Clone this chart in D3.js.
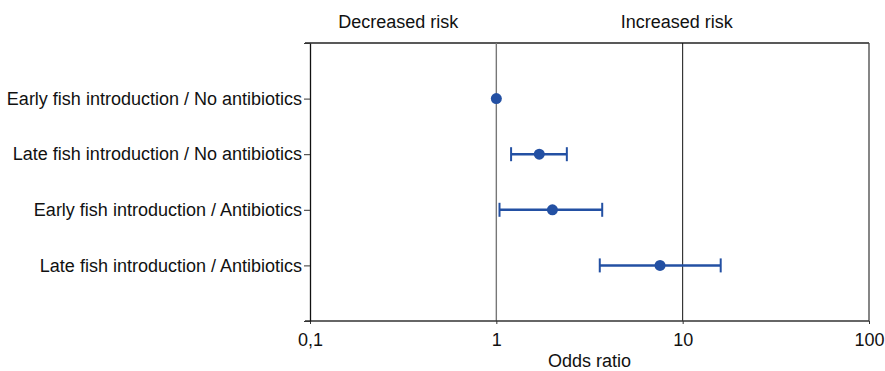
<!DOCTYPE html>
<html>
<head>
<meta charset="utf-8">
<script src="https://cdn.jsdelivr.net/npm/d3@7"></script>
<style>
  body { margin: 0; background: #fff; }
  svg text { font-family: "Liberation Sans Narrow", "Liberation Sans", Arial, sans-serif; fill: #111; }
</style>
</head>
<body>
<div id="chart"></div>
<script>
// groups, top to bottom
var groups = [
  'Early fish introduction / No antibiotics',
  'Late fish introduction / No antibiotics',
  'Early fish introduction / Antibiotics',
  'Late fish introduction / Antibiotics'
];
var oddsRatio = [1.0, 1.70, 2.0, 7.56];
var ciLow = [null, 1.20, 1.04, 3.59];
var ciHigh = [null, 2.39, 3.70, 16.0];

var xTicks = [0.1, 1, 10, 100];
var xTickLabels = ['0,1', '1', '10', '100'];
var refLines = [1, 10];

var width = 885, height = 371;
var margin = {top: 43, right: 16, bottom: 50, left: 310};

var svg = d3.select('#chart').append('svg')
  .attr('width', width).attr('height', height);

var x = d3.scaleLog().domain([0.1, 100]).range([margin.left, width - margin.right]);
// 6 slots: empty top, 4 groups, empty bottom
var y = d3.scaleLinear().domain([0, groups.length + 1]).range([margin.top, height - margin.bottom]);

var blue = '#2350a3';

// frame: top and right
svg.append('line')
  .attr('x1', margin.left - 5).attr('x2', x(100))
  .attr('y1', y(0)).attr('y2', y(0))
  .attr('stroke', '#222').attr('stroke-width', 1.3);
svg.append('line')
  .attr('x1', x(100)).attr('x2', x(100))
  .attr('y1', y(0)).attr('y2', y(groups.length + 1))
  .attr('stroke', '#444').attr('stroke-width', 1.3);

// reference lines
svg.selectAll('.ref').data(refLines).enter().append('line')
  .attr('x1', function(d) { return x(d); }).attr('x2', function(d) { return x(d); })
  .attr('y1', y(0)).attr('y2', y(groups.length + 1))
  .attr('stroke', function(d) { return d === 1 ? '#777' : '#111'; })
  .attr('stroke-width', function(d) { return d === 1 ? 1.4 : 1; });

// x axis
var xAxis = d3.axisBottom(x).tickValues(xTicks)
  .tickFormat(function(d, i) { return xTickLabels[i]; })
  .tickSizeInner(3).tickSizeOuter(0).tickPadding(9);
var gx = svg.append('g')
  .attr('transform', 'translate(0,' + y(groups.length + 1) + ')')
  .call(xAxis);
gx.select('.domain').attr('stroke', '#333').attr('stroke-width', 1.3)
  .attr('d', 'M' + (margin.left - 5) + ',0H' + x(100));
gx.selectAll('.tick line').attr('stroke', '#333');
gx.selectAll('text').style('font-size', '18px').style('fill', '#111');

// y axis
var yAxis = d3.axisLeft(y).tickValues(d3.range(0, groups.length + 2))
  .tickFormat(function(d) { return groups[d - 1] || ''; })
  .tickSizeInner(6).tickSizeOuter(0).tickPadding(2);
var gy = svg.append('g')
  .attr('transform', 'translate(' + margin.left + ',0)')
  .call(yAxis);
gy.select('.domain').attr('stroke', '#111').attr('stroke-width', 1.3);
gy.selectAll('.tick line').attr('stroke', '#333');
gy.selectAll('text').style('font-size', '18px').style('fill', '#111');

// error bars
var rows = groups.map(function(g, i) {
  return {name: g, or: oddsRatio[i], lo: ciLow[i], hi: ciHigh[i], pos: i + 1};
});
var ci = rows.filter(function(d) { return d.lo !== null; });
var capH = 7;

svg.selectAll('.ci').data(ci).enter().append('line')
  .attr('x1', function(d) { return x(d.lo); }).attr('x2', function(d) { return x(d.hi); })
  .attr('y1', function(d) { return y(d.pos); }).attr('y2', function(d) { return y(d.pos); })
  .attr('stroke', blue).attr('stroke-width', 2.5);
['lo', 'hi'].forEach(function(k) {
  svg.selectAll('.cap-' + k).data(ci).enter().append('line')
    .attr('x1', function(d) { return x(d[k]); }).attr('x2', function(d) { return x(d[k]); })
    .attr('y1', function(d) { return y(d.pos) - capH; }).attr('y2', function(d) { return y(d.pos) + capH; })
    .attr('stroke', blue).attr('stroke-width', 2);
});

svg.selectAll('.pt').data(rows).enter().append('circle')
  .attr('cx', function(d) { return x(d.or); })
  .attr('cy', function(d) { return y(d.pos); })
  .attr('r', 5.5)
  .attr('fill', blue);

// labels
svg.append('text')
  .attr('x', x(Math.sqrt(0.1)) - 5).attr('y', 28)
  .attr('text-anchor', 'middle').style('font-size', '18px')
  .text('Decreased risk');
svg.append('text')
  .attr('x', x(10) - 6).attr('y', 28)
  .attr('text-anchor', 'middle').style('font-size', '18px')
  .text('Increased risk');
svg.append('text')
  .attr('x', x(Math.sqrt(10))).attr('y', 367)
  .attr('text-anchor', 'middle').style('font-size', '18px')
  .text('Odds ratio');
</script>
</body>
</html>
